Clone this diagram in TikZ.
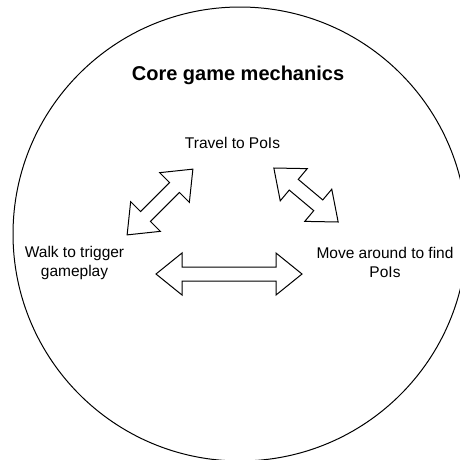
\documentclass[tikz,border=0pt]{standalone}
\usepackage{fontspec}
\setmainfont{Liberation Sans}
\tikzset{
  arrowshape/.style={draw=black, line width=1pt, fill=white, line join=miter},
  lbl/.style={align=center, inner sep=0pt, font=\fontsize{15.5}{18.5}\selectfont},
  ttl/.style={align=center, inner sep=0pt, font=\fontsize{20}{24}\selectfont\bfseries},
  pics/dblarrow/.style={code={
    \pgfmathsetmacro{\hl}{#1/2}
    \draw[arrowshape] (-\hl,0) -- (-\hl+26,21) -- (-\hl+26,7) -- (\hl-26,7) -- (\hl-26,21)
      -- (\hl,0) -- (\hl-26,-21) -- (\hl-26,-7) -- (-\hl+26,-7) -- (-\hl+26,-21) -- cycle;
  }}
}
\begin{document}
\begin{tikzpicture}[x=1pt,y=-1pt]
\useasboundingbox (0,0) rectangle (460,459);
\clip (0,0) rectangle (460,459);
\draw[line width=1pt] (240,234) circle[radius=227pt];
\node[ttl] (title) at (238,75) {Core game mechanics};
\node[lbl] (travel) at (232.5,143) {Travel to PoIs};
\node[lbl] (walk) at (74.5,263) {Walk to trigger\\gameplay};
\node[lbl] (move) at (385,262.5) {Move around to find\\PoIs};
\pic[rotate=45] at (160,202) {dblarrow=93};
\pic[rotate=-40] at (306,195) {dblarrow=84};
\pic at (229,274) {dblarrow=146};
\end{tikzpicture}
\end{document}
